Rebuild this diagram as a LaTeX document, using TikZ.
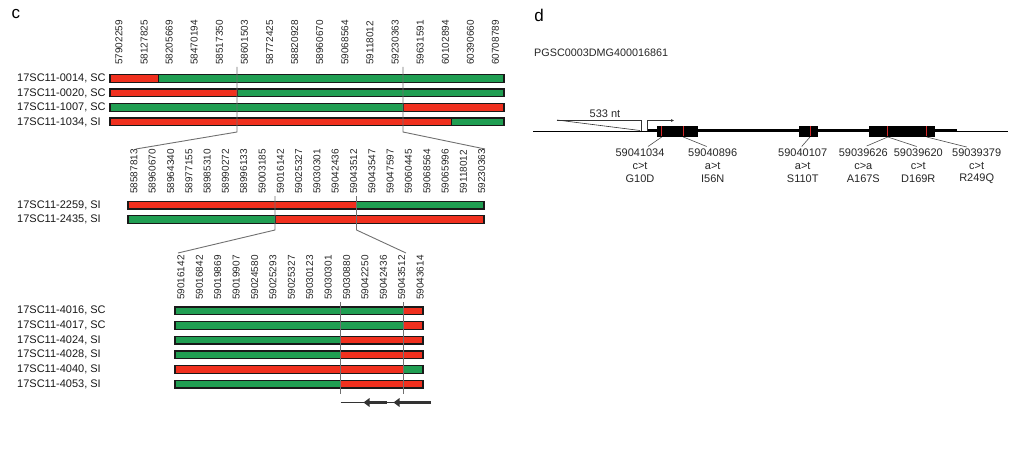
\documentclass[tikz,border=0pt]{standalone}
\usepackage{fontspec}
\setmainfont{Liberation Sans}
\usetikzlibrary{arrows.meta}
\definecolor{barred}{RGB}{240,48,30}
\definecolor{bargreen}{RGB}{32,158,82}
\definecolor{markgray}{RGB}{112,112,112}
\definecolor{snpred}{RGB}{215,40,40}
\tikzset{
  tick/.style={rotate=90, anchor=west, inner sep=0pt, text=black!85, font=\fontsize{10}{12}\selectfont},
  rowlab/.style={anchor=west, inner sep=0pt, text=black!90, font=\fontsize{11}{12}\selectfont},
  panel/.style={anchor=center, inner sep=0pt, font=\fontsize{17}{20}\selectfont},
  barout/.style={draw=black!90, line width=1.4pt},
  divider/.style={draw=black!90, line width=1pt},
  marker/.style={draw=markgray, line width=0.9pt},
  dlab/.style={anchor=center, inner sep=0pt, text=black!85, font=\fontsize{11}{13}\selectfont},
  leader/.style={draw=black!70, line width=0.6pt},
  genearrow/.style={draw=black!80, line width=3.5pt, -{Triangle[length=6pt,width=8.5pt]}},
}
\newcommand{\chrbar}[6]{%
  \fill[#5] (#2,#1-3.8) rectangle (#3,#1+3.8);
  \fill[#6] (#3,#1-3.8) rectangle (#4,#1+3.8);
  \draw[divider] (#3,#1-3.8) -- (#3,#1+3.8);
  \draw[barout] (#2,#1-3.8) rectangle (#4,#1+3.8);
}
\begin{document}
\begin{tikzpicture}[x=1pt,y=-1pt]
\useasboundingbox (0,0) rectangle (1024,449);

% ---------------- panel c ----------------
\node[panel] (lc) at (16,14) {c};

% top panel ticks
\foreach \lab [count=\i from 0] in {57902259,58127825,58205669,58470194,58517350,58601503,58772425,58820928,58960670,59068564,59118012,59230363,59631591,60102894,60390660,60708789}
  {\node[tick] (ta\i) at ({119+\i*25.1},65) {\lab};}

\node[rowlab] (ra1) at (17,78.5) {17SC11-0014, SC};
\node[rowlab] (ra2) at (17,93) {17SC11-0020, SC};
\node[rowlab] (ra3) at (17,107.5) {17SC11-1007, SC};
\node[rowlab] (ra4) at (17,122) {17SC11-1034, SI};

\chrbar{78.5}{110}{158}{504}{barred}{bargreen}
\chrbar{93}{110}{237}{504}{barred}{bargreen}
\chrbar{107.5}{110}{403}{504}{bargreen}{barred}
\chrbar{122}{110}{451}{504}{barred}{bargreen}

\coordinate (a1t) at (237,67);
\coordinate (a1b) at (237,132);
\coordinate (a1e) at (136,149);
\coordinate (a2t) at (403,67);
\coordinate (a2b) at (403,132);
\coordinate (a2e) at (485,149);
\draw[marker] (a1t) -- (a1b) -- (a1e);
\draw[marker] (a2t) -- (a2b) -- (a2e);

% middle panel
\foreach \lab [count=\i from 0] in {58587813,58960670,58964340,58977155,58985310,58990272,58996133,59003185,59016142,59025327,59030301,59042436,59043512,59043547,59047597,59060445,59068564,59065996,59118012,59230363}
  {\node[tick] (tb\i) at ({134+\i*18.3},194) {\lab};}

\node[rowlab] (rb1) at (17,205) {17SC11-2259, SI};
\node[rowlab] (rb2) at (17,219.5) {17SC11-2435, SI};

\chrbar{205}{128}{356.5}{484}{barred}{bargreen}
\chrbar{219.5}{128}{275}{484}{bargreen}{barred}

\coordinate (b1t) at (275,196);
\coordinate (b1b) at (275,230);
\coordinate (b1e) at (178,253);
\coordinate (b2t) at (356.5,196);
\coordinate (b2b) at (356.5,230);
\coordinate (b2e) at (406,253);
\draw[marker] (b1t) -- (b1b) -- (b1e);
\draw[marker] (b2t) -- (b2b) -- (b2e);

% bottom panel
\foreach \lab [count=\i from 0] in {59016142,59016842,59019869,59019907,59024580,59025293,59025327,59030123,59030301,59030880,59042250,59042436,59043512,59043614}
  {\node[tick] (tc\i) at ({181+\i*18.4},300) {\lab};}

\node[rowlab] (rc1) at (17,310.7) {17SC11-4016, SC};
\node[rowlab] (rc2) at (17,325.4) {17SC11-4017, SC};
\node[rowlab] (rc3) at (17,340.1) {17SC11-4024, SI};
\node[rowlab] (rc4) at (17,354.8) {17SC11-4028, SI};
\node[rowlab] (rc5) at (17,369.5) {17SC11-4040, SI};
\node[rowlab] (rc6) at (17,384.2) {17SC11-4053, SI};

\chrbar{310.7}{175}{403.3}{423}{bargreen}{barred}
\chrbar{325.4}{175}{403.3}{423}{bargreen}{barred}
\chrbar{340.1}{175}{340.7}{423}{bargreen}{barred}
\chrbar{354.8}{175}{340.7}{423}{bargreen}{barred}
\chrbar{369.5}{175}{403.3}{423}{barred}{bargreen}
\chrbar{384.2}{175}{340.7}{423}{bargreen}{barred}

\coordinate (c1t) at (340.7,302);
\coordinate (c1b) at (340.7,394);
\coordinate (c2t) at (403.3,302);
\coordinate (c2b) at (403.3,394);
\draw[marker] (c1t) -- (c1b);
\draw[marker] (c2t) -- (c2b);

% gene arrows under bottom panel
\coordinate (g0) at (340.7,402.5);
\coordinate (g1) at (395,402.5);
\coordinate (g2s) at (386.7,402.5);
\coordinate (g2e) at (363.5,402.5);
\coordinate (g3s) at (431,402.5);
\coordinate (g3e) at (393.5,402.5);
\draw[draw=black!80, line width=0.8pt] (g0) -- (g1);
\draw[genearrow] (g2s) -- (g2e);
\draw[genearrow] (g3s) -- (g3e);

% ---------------- panel d ----------------
\node[panel] (ld) at (539,15) {d};
\node[anchor=west, inner sep=0pt, text=black!85, font=\fontsize{10.8}{12}\selectfont] (gname) at (534,53) {PGSC0003DMG400016861};

\coordinate (bl) at (533,131);
\coordinate (br) at (1008,131);
\coordinate (tl) at (647.7,131);
\coordinate (tr) at (957,131);
\draw[draw=black, line width=0.8pt] (bl) -- (br);
\draw[draw=black, line width=3pt] (tl) -- (tr);

\fill[black] (656.7,126) rectangle (698.3,137);
\fill[black] (799.3,126) rectangle (818.3,137);
\fill[black] (869,126) rectangle (935,137);

\foreach \xx [count=\k] in {661.7,683.3,810,887.7,926.7}
  {\coordinate (m\k) at (\xx,137);
   \draw[draw=snpred, line width=1pt] (\xx,126.5) -- (\xx,136.5);}

% 533 nt marker
\coordinate (n1) at (557,120);
\coordinate (n2) at (641.7,120);
\coordinate (n3) at (641.7,131);
\coordinate (n4) at (640,130.5);
\draw[draw=black!80, line width=0.6pt] (n1) -- (n2) -- (n3);
\draw[draw=black!80, line width=0.6pt] (n1) -- (n4);
\node[dlab] (nt) at (605,114) {533 nt};

% promoter arrow
\coordinate (p1) at (647.5,131);
\coordinate (p2) at (647.5,120.5);
\coordinate (p3) at (674,120.5);
\draw[draw=black!80, line width=0.6pt, -{Triangle[length=3pt,width=2.5pt]}] (p1) -- (p2) -- (p3);

% SNP labels
\node[dlab] (s1) at (640,153) {59041034};
\node[dlab] (s2) at (712.7,153) {59040896};
\node[dlab] (s3) at (802.7,153) {59040107};
\node[dlab] (s4) at (863.3,153) {59039626};
\node[dlab] (s5) at (918.3,153) {59039620};
\node[dlab] (s6) at (976.7,153) {59039379};

\node[dlab] (a1) at (640,166) {c>t};
\node[dlab] (a2) at (712.7,166) {a>t};
\node[dlab] (a3) at (802.7,166) {a>t};
\node[dlab] (a4) at (863.3,166) {c>a};
\node[dlab] (a5) at (918.3,166) {c>t};
\node[dlab] (a6) at (976.7,166) {c>t};

\node[dlab] (aa1) at (640,178.5) {G10D};
\node[dlab] (aa2) at (712.7,178.5) {I56N};
\node[dlab] (aa3) at (802.7,178.5) {S110T};
\node[dlab] (aa4) at (863.3,178.5) {A167S};
\node[dlab] (aa5) at (918.3,178.5) {D169R};
\node[dlab] (aa6) at (976.7,178.5) {R249Q};

\coordinate (e1) at (648,146.5);
\coordinate (e2) at (706.7,146.5);
\coordinate (e3) at (801.7,146.5);
\coordinate (e4) at (866.7,146);
\coordinate (e5) at (916.7,146.5);
\coordinate (e6) at (966.7,147);
\draw[leader] (m1) -- (e1);
\draw[leader] (m2) -- (e2);
\draw[leader] (m3) -- (e3);
\draw[leader] (m4) -- (e4);
\draw[leader] (m4) -- (e5);
\draw[leader] (m5) -- (e6);
\end{tikzpicture}
\end{document}
